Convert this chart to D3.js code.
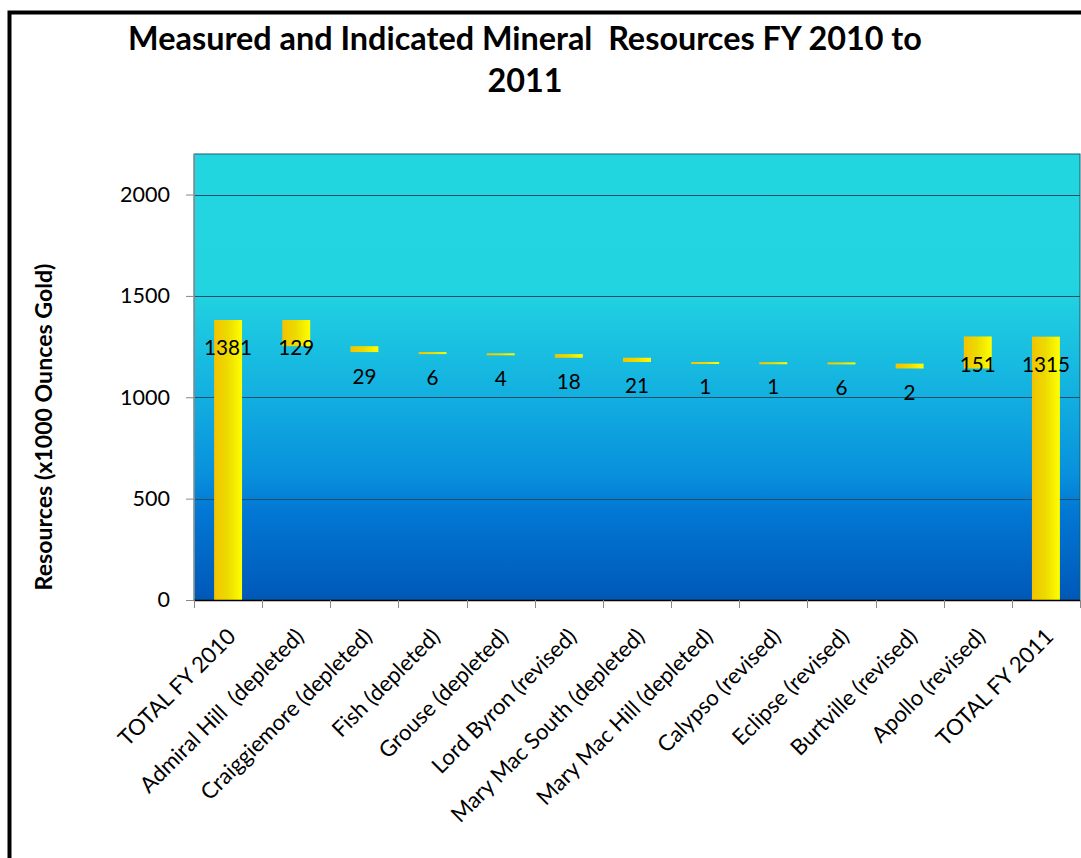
<!DOCTYPE html>
<html><head><meta charset="utf-8">
<script src="https://cdn.jsdelivr.net/npm/d3@7"></script>
<style>body{margin:0;background:#fff}svg{display:block}text{font-family:Lato,"Liberation Sans",sans-serif;white-space:pre}</style>
</head><body>
<svg id="c" width="1081" height="858"></svg>
<script>
const categories = ["TOTAL FY 2010","Admiral Hill  (depleted)","Craiggiemore (depleted)","Fish (depleted)","Grouse (depleted)","Lord Byron (revised)","Mary Mac South (depleted)","Mary Mac Hill (depleted)","Calypso (revised)","Eclipse (revised)","Burtville (revised)","Apollo (revised)","TOTAL FY 2011"];
const kinds = ["total","down","down","down","down","down","down","down","down","down","down","up","total"];
// printed data labels
const labelValues = [1381,129,29,6,4,18,21,1,1,6,2,151,1315];
// bar magnitudes as drawn in the picture
const barValues = [1381,129,29,6,4,18,21,1,1,6,24,158,1299];
const yTicks = [0,500,1000,1500,2000];
const title1 = "Measured and Indicated Mineral  Resources FY 2010 to";
const title2 = "2011";
const yTitle = "Resources (x1000 Ounces Gold)";

const svg = d3.select("#c");
const L=194,R=1080,T=154,B=600;
const x = d3.scaleBand().domain(categories).range([L,R]).paddingInner(0.59).paddingOuter(0.295);
const xb = d3.scaleBand().domain(categories).range([L,R]);
const y = d3.scaleLinear().domain([0,2200]).range([B,T]);

// fit font size of a text so a reference string gets a given width
function fitSize(str, target, weight){
  const t=svg.append("text").attr("font-size",20).attr("font-weight",weight||"normal").text(str);
  const w=t.node().getComputedTextLength(); t.remove();
  return 20*target/w;
}
const fsTick = fitSize("2000",50);
const fsData = fitSize("1381",48);
const fsX = fitSize("TOTAL FY 2010",155);
const fsTitle = fitSize(title1,794,"bold");
const fsYT = fitSize(yTitle,327,"bold");

// compute waterfall spans
let level=0; const spans=[];
barValues.forEach((v,i)=>{
  if(kinds[i]==="total"){spans.push([0,v]);level=v;}
  else if(kinds[i]==="down"){spans.push([level-v,level]);level-=v;}
  else {spans.push([level,level+v]);level+=v;}
});

const defs=svg.append("defs");
const bg=defs.append("linearGradient").attr("id","bg").attr("x1",0).attr("y1",0).attr("x2",0).attr("y2",1);
[[0,"#22d6e0"],[0.3,"#22d4e0"],[0.55,"#12aee0"],[0.72,"#0890dc"],[0.8,"#0278d4"],[1,"#0058b8"]].forEach(s=>bg.append("stop").attr("offset",s[0]).attr("stop-color",s[1]));
const bar=defs.append("linearGradient").attr("id","bar").attr("x1",0).attr("y1",0).attr("x2",1).attr("y2",0);
[[0,"#f4c200"],[0.5,"#ecdc00"],[1,"#ffff00"]].forEach(s=>bar.append("stop").attr("offset",s[0]).attr("stop-color",s[1]));

// frame
svg.append("rect").attr("x",9.5).attr("y",12.5).attr("width",1200).attr("height",1000).attr("fill","none").attr("stroke","#000").attr("stroke-width",4);

// plot background
svg.append("rect").attr("x",L).attr("y",T).attr("width",R-L).attr("height",B-T).attr("fill","url(#bg)").attr("stroke","#1a5a68").attr("stroke-width",1);

// grid
svg.append("g").selectAll("line").data(yTicks.filter(d=>d>0)).join("line")
  .attr("x1",L).attr("x2",R).attr("y1",d=>Math.round(y(d))+0.5).attr("y2",d=>Math.round(y(d))+0.5)
  .attr("stroke","#1a4f66").attr("stroke-width",1);

// bars
svg.append("g").selectAll("rect").data(categories).join("rect")
  .attr("x",d=>x(d)).attr("width",x.bandwidth())
  .attr("y",(d,i)=>y(spans[i][1]))
  .attr("height",(d,i)=>Math.max(2,y(spans[i][0])-y(spans[i][1])))
  .attr("fill","url(#bar)");

// y axis
const ya=svg.append("g").attr("transform",`translate(${L},0)`).call(d3.axisLeft(y).tickValues(yTicks).tickSize(8).tickPadding(16).tickFormat(d3.format("d")));
ya.select(".domain").attr("stroke","#888").attr("d",`M0.5,${T}V${B+1}`);
ya.selectAll(".tick line").attr("stroke","#888");
ya.selectAll("text").attr("font-size",fsTick).attr("fill","#000").style("font-family","Lato");

// x axis ticks
svg.append("line").attr("x1",L).attr("x2",R).attr("y1",B+0.5).attr("y2",B+0.5).attr("stroke","#000").attr("stroke-width",1.5);
svg.append("g").selectAll("line").data(categories.concat(["__end"])).join("line")
  .attr("x1",(d,i)=>Math.round(L+i*xb.bandwidth())+0.5).attr("x2",(d,i)=>Math.round(L+i*xb.bandwidth())+0.5)
  .attr("y1",B).attr("y2",B+8).attr("stroke","#888");

// x labels
svg.append("g").selectAll("text").data(categories).join("text")
  .attr("transform",d=>`translate(${xb(d)+xb.bandwidth()/2+9},638) rotate(-45)`)
  .attr("text-anchor","end").attr("font-size",fsX).text(d=>d);

// data labels
svg.append("g").selectAll("text").data(categories).join("text")
  .attr("x",d=>x(d)+x.bandwidth()/2)
  .attr("y",(d,i)=>{const t=y(spans[i][1]), b=y(spans[i][0]); return (b-t>=20)? t+28 : b+24;})
  .attr("dy","0.36em").attr("text-anchor","middle").attr("font-size",fsData).attr("fill","#000")
  .text((d,i)=>labelValues[i]);

// titles
svg.append("text").attr("x",525).attr("y",50).attr("text-anchor","middle").attr("font-size",fsTitle).attr("font-weight","bold").text(title1);
svg.append("text").attr("x",525).attr("y",92).attr("text-anchor","middle").attr("font-size",fsTitle).attr("font-weight","bold").text(title2);
svg.append("text").attr("transform","translate(52,427) rotate(-90)").attr("text-anchor","middle").attr("font-size",fsYT).attr("font-weight","bold").text(yTitle);
</script>
</body></html>
